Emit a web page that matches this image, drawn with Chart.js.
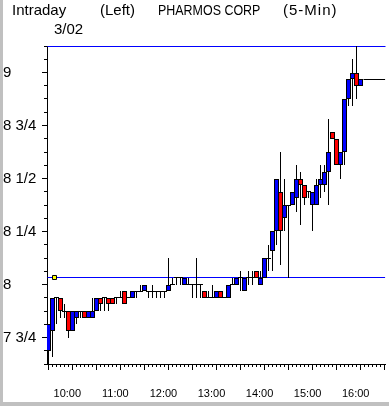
<!DOCTYPE html>
<html><head><meta charset="utf-8">
<script src="https://cdn.jsdelivr.net/npm/chart.js@4/dist/chart.umd.min.js"></script>
<style>
html,body{margin:0;padding:0;background:#fff;}
#wrap{position:relative;width:389px;height:406px;overflow:hidden;background:#fff;}
canvas{position:absolute;left:0;top:0;}
#frameL{position:absolute;left:0;top:0;width:3px;height:406px;background:#c0c0c0;}
#frameB{position:absolute;left:0;top:402px;width:389px;height:4px;background:#c0c0c0;}
.t{position:absolute;font-family:"Liberation Sans",Arial,sans-serif;font-size:15px;line-height:15px;color:#000;white-space:pre;}
</style></head>
<body><div id="wrap">
<canvas id="c" width="389" height="406"></canvas>
<div class="t" style="left:12px;top:2px">Intraday</div>
<div class="t" style="left:100px;top:2px">(Left)</div>
<div class="t" style="left:158px;top:2px;transform:scaleX(0.83);transform-origin:0 0">PHARMOS CORP</div>
<div class="t" style="left:283px;top:2px;letter-spacing:1px">(5-Min)</div>
<div class="t" style="left:54px;top:21px">3/02</div>
<div id="frameL"></div><div id="frameB"></div>
</div>
<script>
const barTimes = ["9:30","9:35","9:40","9:45","9:50","9:55",
"10:00","10:05","10:10","10:15","10:20","10:25","10:30","10:35","10:40","10:45","10:50","10:55",
"11:00","11:05","11:10","11:15","11:20","11:25","11:30","11:35","11:40","11:45","11:50","11:55",
"12:00","12:05","12:10","12:15","12:20","12:25","12:30","12:35","12:40","12:45","12:50","12:55",
"13:00","13:05","13:10","13:15","13:20","13:25","13:30","13:35","13:40","13:45","13:50","13:55",
"14:00","14:05","14:10","14:15","14:20","14:25","14:30","14:35","14:40","14:45","14:50","14:55",
"15:00","15:05","15:10","15:15","15:20","15:25","15:30","15:35","15:40","15:45","15:50","15:55",
"16:00"];
const open = [7.6875,7.78125,7.9375,7.9375,7.875,7.875,
7.78125,7.84375,7.875,7.875,7.84375,7.84375,7.875,7.9375,7.9375,7.9375,7.9375,7.9375,
7.9375,7.96875,7.9375,7.9375,7.96875,7.96875,7.96875,7.96875,7.96875,7.96875,7.96875,7.96875,
7.96875,8.0,8.03125,8.03125,8.0,8.0,8.0,8.0,8.0,7.96875,7.9375,7.9375,
7.9375,7.96875,7.9375,7.9375,8.0,8.0,8.03125,7.96875,8.03125,8.03125,8.0625,8.0,
8.03125,8.125,8.15625,8.25,8.4375,8.3125,8.375,8.375,8.40625,8.5,8.46875,8.4375,
8.375,8.375,8.46875,8.46875,8.53125,8.71875,8.6875,8.5625,8.625,8.875,8.96875,9.0,
8.9375];
const high = [7.8125,7.9375,7.9375,7.9375,7.90625,7.875,
7.875,7.875,7.875,7.875,7.875,7.9375,7.9375,7.9375,7.9375,7.9375,7.9375,7.9375,
7.96875,7.96875,7.9375,7.96875,7.96875,8.0,8.0,7.96875,8.0,7.96875,7.96875,7.96875,
8.125,8.03125,8.03125,8.03125,8.03125,8.03125,8.0,8.125,8.0,7.96875,7.96875,8.0,
7.96875,7.96875,7.9375,8.0,8.03125,8.03125,8.0625,8.03125,8.0625,8.0625,8.0625,8.0625,
8.125,8.1875,8.25,8.5,8.625,8.5,8.375,8.4375,8.5625,8.53125,8.46875,8.4375,
8.4375,8.5,8.5625,8.5625,8.78125,8.71875,8.6875,8.625,8.875,8.96875,9.0625,9.125,
8.96875];
const low = [7.625,7.65625,7.8125,7.84375,7.84375,7.75,
7.78125,7.8125,7.84375,7.84375,7.84375,7.84375,7.875,7.875,7.875,7.875,7.90625,7.90625,
7.9375,7.90625,7.9375,7.9375,7.9375,7.96875,7.96875,7.9375,7.9375,7.9375,7.9375,7.9375,
7.96875,8.0,8.0,8.0,8.0,8.0,7.9375,7.9375,7.9375,7.9375,7.9375,7.9375,
7.9375,7.9375,7.9375,7.9375,8.0,8.0,7.96875,7.96875,8.0,8.0,8.03125,8.0,
8.03125,8.0625,8.0625,8.1875,8.09375,8.25,8.03125,8.375,8.34375,8.28125,8.375,8.40625,
8.25,8.375,8.40625,8.4375,8.375,8.6875,8.5625,8.5,8.5625,8.84375,8.84375,8.875,
8.9375];
const close = [7.8125,7.9375,7.9375,7.875,7.875,7.78125,
7.875,7.875,7.875,7.84375,7.875,7.875,7.9375,7.90625,7.9375,7.90625,7.90625,7.9375,
7.9375,7.90625,7.9375,7.96875,7.96875,7.96875,8.0,7.96875,7.96875,7.96875,7.96875,7.96875,
8.0,8.0,8.03125,8.03125,8.03125,8.0,8.0,8.0,8.0,7.9375,7.9375,7.9375,
7.96875,7.9375,7.9375,8.0,8.0,8.03125,8.03125,8.03125,8.03125,8.03125,8.03125,8.03125,
8.125,8.125,8.25,8.5,8.25,8.375,8.375,8.4375,8.5,8.46875,8.40625,8.4375,
8.4375,8.46875,8.5,8.53125,8.625,8.6875,8.5625,8.625,8.875,8.96875,9.0,8.9375,
8.96875];
const prevClose = 8.03125;
const prevCloseMarkTime = "9:38";
const dayHigh = 9.125;
const hourLabels = ["10:00","11:00","12:00","13:00","14:00","15:00","16:00"];
const yLabelValues = [7.75, 8, 8.25, 8.5, 8.75, 9];
const yLabelTexts = ["7 3/4","8","8 1/4","8 1/2","8 3/4","9"];
const axisStart = "9:30", axisEnd = "16:30";

const FONT = '"Liberation Sans", Arial, sans-serif';
const toMin = t => { const p = t.split(':'); return (+p[0] - 9) * 60 + (+p[1]) - 30; };
const xs = barTimes.map(toMin);
const xMin = -1.6, xMax = 420.6, yMin = 7.625, yMax = 9.125;

const bodyData = [], bodyColors = [], wickData = [], dojiData = [];
xs.forEach((x, i) => {
  if (high[i] > low[i]) wickData.push({x: x, y: [low[i], high[i]]});
  if (open[i] !== close[i]) {
    bodyData.push({x: x, y: [open[i], close[i]]});
    bodyColors.push(close[i] > open[i] ? '#0000ff' : '#ff0000');
  } else dojiData.push({x: x, y: close[i]});
});
const last = xs.length - 1;

const fiveMin = [], halfHour = [];
for (let m = toMin(axisStart); m <= toMin(axisEnd); m += 5) { fiveMin.push(m); if (m % 30 === 0) halfHour.push(m); }
const sixteenths = [];
for (let v = yMin; v <= yMax + 1e-9; v += 0.0625) sixteenths.push(v);

const hourText = v => { const i = hourLabels.findIndex(h => toMin(h) === v); return i >= 0 ? hourLabels[i] : ''; };
const noPad = s => { s.paddingLeft = 0; s.paddingRight = 0; s.paddingTop = 0; s.paddingBottom = 0; };

// snap element pixel positions (computed by the scales) to the device pixel grid for crisp marks
const snapPlugin = {
  id: 'snap',
  afterDatasetsUpdate(chart) {
    chart.data.datasets.forEach((ds, di) => {
      const meta = chart.getDatasetMeta(di);
      meta.data.forEach(el => {
        if (meta.type === 'bar') {
          el.x = Math.floor(el.x) + 0.5;
          el.y = Math.round(el.y);
          el.base = Math.round(el.base);
        } else {
          el.x = Math.floor(el.x) + 0.5;
          el.y = Math.floor(el.y) + 0.5;
        }
      });
    });
  }
};

new Chart(document.getElementById('c'), {
  type: 'scatter',
  plugins: [snapPlugin],
  data: { datasets: [
    {type:'scatter', data:[{x: toMin(prevCloseMarkTime), y: prevClose}], pointStyle:'rect', pointRadius:2.83, pointHoverRadius:2.83,
     pointBackgroundColor:'#ffff00', pointBorderColor:'#000', pointBorderWidth:1, xAxisID:'x', yAxisID:'y', order:0},
    {type:'bar', data: bodyData, backgroundColor: bodyColors, borderColor:'#000', borderWidth:1, borderSkipped:false,
     barThickness:5, grouped:false, inflateAmount:0, xAxisID:'x', yAxisID:'y', order:1},
    {type:'scatter', data: dojiData, pointStyle:'line', pointRadius:2.5, pointHoverRadius:2.5, pointBorderColor:'#000',
     pointBorderWidth:1, xAxisID:'x', yAxisID:'y', order:2},
    {type:'bar', data: wickData, backgroundColor:'#000', borderWidth:0, barThickness:1, grouped:false, inflateAmount:0,
     xAxisID:'x', yAxisID:'y', order:3},
    {type:'line', data:[{x:xMin,y:prevClose},{x:xMax,y:prevClose}], borderColor:'#0000ff', borderWidth:1, pointRadius:0,
     xAxisID:'x', yAxisID:'y', order:4},
    {type:'line', data:[{x:xMin,y:dayHigh},{x:xMax,y:dayHigh}], borderColor:'#0000ff', borderWidth:1, pointRadius:0, clip:false,
     xAxisID:'x', yAxisID:'y', order:4},
    {type:'line', data:[{x:xs[last] + 3, y:close[last]},{x:xMax, y:close[last]}], borderColor:'#000', borderWidth:1, pointRadius:0,
     xAxisID:'x', yAxisID:'y', order:4}
  ]},
  options: {
    responsive:false, animation:false, events:[],
    layout:{padding:{left:3, top:46, right:0, bottom:0}},
    plugins:{legend:{display:false}, tooltip:{enabled:false}, title:{display:false}},
    scales:{
      x:{type:'linear', position:'bottom', min:xMin, max:xMax, offset:false, weight:1,
         grid:{drawOnChartArea:false, drawTicks:true, tickLength:6, tickColor:'#000', tickWidth:1, offset:false},
         border:{display:true, color:'#000', width:1},
         afterBuildTicks: s => { s.ticks = halfHour.map(v => ({value:v})); },
         afterFit: s => { s.height = 42; noPad(s); },
         ticks:{autoSkip:false, maxRotation:0, minRotation:0, padding:17, labelOffset:-5, color:'#000',
                font:{family:FONT, size:11}, callback: v => hourText(v)}},
      xMinor:{type:'linear', position:'bottom', min:xMin, max:xMax, offset:false, weight:0,
         grid:{drawOnChartArea:false, drawTicks:true, tickLength:3, tickColor:'#000', tickWidth:1, offset:false},
         border:{display:false},
         afterBuildTicks: s => { s.ticks = fiveMin.map(v => ({value:v})); },
         afterFit: s => { s.height = 0; noPad(s); },
         ticks:{display:false}},
      y:{type:'linear', position:'left', min:yMin, max:yMax, weight:1,
         grid:{drawOnChartArea:false, drawTicks:true, tickLength:5, tickColor:'#000', tickWidth:1},
         border:{display:true, color:'#000', width:1},
         afterBuildTicks: s => { s.ticks = yLabelValues.map(v => ({value:v})); },
         afterFit: s => { s.width = 44; noPad(s); },
         ticks:{crossAlign:'far', padding:4, color:'#000', font:{family:FONT, size:15},
                callback: v => { const i = yLabelValues.indexOf(v); return i >= 0 ? yLabelTexts[i] : ''; }}},
      yMinor:{type:'linear', position:'left', min:yMin, max:yMax, weight:0,
         grid:{drawOnChartArea:false, drawTicks:true, tickLength:3, tickColor:'#000', tickWidth:1},
         border:{display:false},
         afterBuildTicks: s => { s.ticks = sixteenths.map(v => ({value:v})); },
         afterFit: s => { s.width = 0; noPad(s); },
         ticks:{display:false}}
    }
  }
});
</script>
</body></html>
